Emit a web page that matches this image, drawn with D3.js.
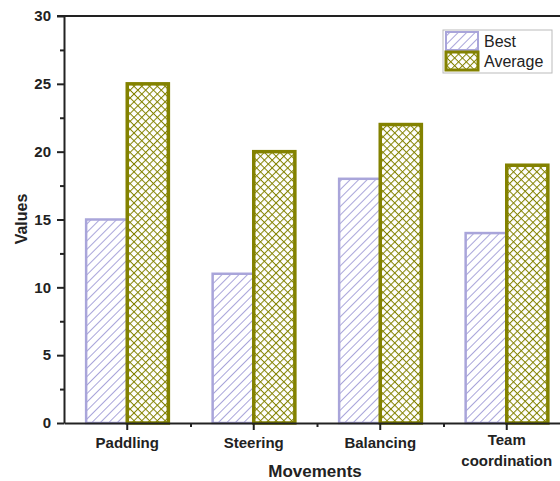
<!DOCTYPE html>
<html>
<head>
<meta charset="utf-8">
<script src="https://cdn.jsdelivr.net/npm/d3@7"></script>
<style>
  body { margin: 0; background: #fff; }
  text { font-family: "Liberation Sans", Arial, sans-serif; }
</style>
</head>
<body>
<svg id="chart" width="560" height="481"></svg>
<script>
const categories = ["Paddling", "Steering", "Balancing", "Team coordination"];
const seriesNames = ["Best", "Average"];
const bestValues = [15, 11, 18, 14];
const averageValues = [25, 20, 22, 19];
const yTicks = [0, 5, 10, 15, 20, 25, 30];

const margin = { top: 16, left: 64, bottom: 58 };
const width = 560, height = 481;
const plotW = 506; // runs past the right edge, as in the picture
const plotH = height - margin.top - margin.bottom;

const svg = d3.select("#chart");
const defs = svg.append("defs");

// diagonal hatch for Best
const diag = defs.append("pattern")
    .attr("id", "diag")
    .attr("patternUnits", "userSpaceOnUse")
    .attr("width", 6).attr("height", 6)
    .attr("patternTransform", "rotate(45)");
diag.append("rect").attr("width", 6).attr("height", 6).attr("fill", "#fff");
diag.append("line")
    .attr("x1", 0).attr("y1", 0).attr("x2", 0).attr("y2", 6)
    .attr("stroke", "#a9a5da").attr("stroke-width", 2);

// cross hatch for Average
const cross = defs.append("pattern")
    .attr("id", "cross")
    .attr("patternUnits", "userSpaceOnUse")
    .attr("width", 5.5).attr("height", 5.5)
    .attr("patternTransform", "rotate(45)");
cross.append("rect").attr("width", 5.5).attr("height", 5.5).attr("fill", "#fff");
cross.append("line").attr("x1", 0).attr("y1", 0).attr("x2", 0).attr("y2", 5.5)
    .attr("stroke", "#838200").attr("stroke-width", 2);
cross.append("line").attr("x1", 0).attr("y1", 0).attr("x2", 5.5).attr("y2", 0)
    .attr("stroke", "#838200").attr("stroke-width", 2);

const styles = {
    Best: { fill: "url(#diag)", stroke: "#a9a5da", sw: 2.5 },
    Average: { fill: "url(#cross)", stroke: "#838200", sw: 3.5 }
};

const x = d3.scaleBand().domain(categories).range([margin.left, margin.left + plotW]);
const x1 = d3.scaleBand().domain(seriesNames).range([x.bandwidth() * 0.175, x.bandwidth() * 0.825]);
const y = d3.scaleLinear().domain([0, 30]).range([margin.top + plotH, margin.top]);

const data = categories.map((c, i) => ({ cat: c, Best: bestValues[i], Average: averageValues[i] }));

const groups = svg.append("g").selectAll("g").data(data).join("g")
    .attr("transform", d => `translate(${x(d.cat)},0)`);

groups.selectAll("rect")
    .data(d => seriesNames.map(s => ({ s, v: d[s] })))
    .join("rect")
    .attr("x", d => x1(d.s))
    .attr("y", d => y(d.v))
    .attr("width", x1.bandwidth())
    .attr("height", d => y(0) - y(d.v))
    .attr("fill", d => styles[d.s].fill)
    .attr("stroke", d => styles[d.s].stroke)
    .attr("stroke-width", d => styles[d.s].sw);

// frame top line
svg.append("line")
    .attr("x1", margin.left - 7).attr("x2", width)
    .attr("y1", margin.top).attr("y2", margin.top)
    .attr("stroke", "#222").attr("stroke-width", 2);

// y axis
const yAxis = svg.append("g")
    .attr("transform", `translate(${margin.left},0)`)
    .call(d3.axisLeft(y).tickValues(yTicks).tickSize(7).tickSizeOuter(0).tickPadding(6));
svg.append("g")
    .attr("transform", `translate(${margin.left},0)`)
    .call(d3.axisLeft(y).tickValues(d3.range(2.5, 30, 5)).tickSize(4).tickFormat(""))
    .call(g => g.select(".domain").remove());

// x axis
svg.append("g")
    .attr("transform", `translate(0,${y(0)})`)
    .call(d3.axisBottom(x).tickSize(7).tickSizeOuter(0).tickFormat(() => ""));
const xMinor = d3.scaleLinear().domain([0, 1]).range([0, 1]);
svg.append("g")
    .attr("transform", `translate(0,${y(0)})`)
    .call(d3.axisBottom(xMinor).tickValues(categories.slice(1).map(c => x(c))).tickSize(4).tickFormat(""))
    .call(g => g.select(".domain").remove());

svg.selectAll(".domain, .tick line").attr("stroke", "#222").attr("stroke-width", 2);
yAxis.selectAll(".tick text")
    .attr("font-size", 15).attr("font-weight", "bold").attr("fill", "#222");

// category labels (wrap two-word label)
const labelG = svg.append("g");
data.forEach(d => {
    const words = d.cat === "Team coordination" ? ["Team", "coordination"] : [d.cat];
    const t = labelG.append("text")
        .attr("x", x(d.cat) + x.bandwidth() / 2)
        .attr("y", words.length > 1 ? 445 : 448)
        .attr("text-anchor", "middle")
        .attr("font-size", 15).attr("font-weight", "bold").attr("fill", "#222");
    words.forEach((w, i) => t.append("tspan")
        .attr("x", x(d.cat) + x.bandwidth() / 2)
        .attr("dy", i === 0 ? 0 : 21)
        .text(w));
});

// axis titles
svg.append("text")
    .attr("x", 315).attr("y", 477)
    .attr("text-anchor", "middle")
    .attr("font-size", 17).attr("font-weight", "bold").attr("fill", "#222")
    .text("Movements");
svg.append("text")
    .attr("transform", `translate(27,219) rotate(-90)`)
    .attr("text-anchor", "middle")
    .attr("font-size", 16).attr("font-weight", "bold").attr("fill", "#222")
    .text("Values");

// legend
const legend = svg.append("g").attr("transform", "translate(443,30)");
legend.append("rect")
    .attr("width", 109).attr("height", 43)
    .attr("fill", "#fff").attr("stroke", "#bbb").attr("stroke-width", 1);
seriesNames.forEach((s, i) => {
    legend.append("rect")
        .attr("x", 3).attr("y", 2 + i * 20)
        .attr("width", 32).attr("height", 18)
        .attr("fill", styles[s].fill)
        .attr("stroke", styles[s].stroke)
        .attr("stroke-width", s === "Best" ? 2 : 3);
    legend.append("text")
        .attr("x", 41).attr("y", 17 + i * 20)
        .attr("font-size", 16).attr("fill", "#222")
        .text(s);
});
</script>
</body>
</html>
